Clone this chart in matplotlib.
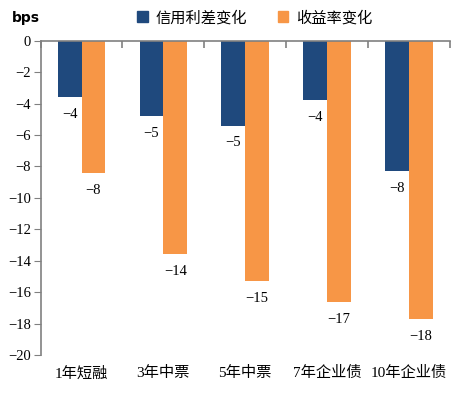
import numpy as np
import matplotlib.pyplot as plt
from matplotlib.patches import Patch

categories = ["1年短融", "3年中票", "5年中票", "7年企业债", "10年企业债"]
spread_chg = [-3.6, -4.8, -5.4, -3.8, -8.3]
yield_chg = [-8.4, -13.6, -15.3, -16.6, -17.7]
series_names = ["信用利差变化", "收益率变化"]
yticks = list(range(-20, 1, 2))

blue = "#1F497D"
orange = "#F79646"
gray = "#808080"
cjk = ["Liberation Serif", "Noto Sans CJK SC"]

fig = plt.figure(figsize=(4.72, 3.95), dpi=100)
ax = fig.add_axes([0.086, 0.101, 0.867, 0.796])

x = np.arange(len(categories))
w = 0.29
b1 = ax.bar(x - w / 2, spread_chg, width=w, color=blue)
b2 = ax.bar(x + w / 2, yield_chg, width=w, color=orange)

# data labels under the bars
for bars, vals in [(b1, spread_chg), (b2, yield_chg)]:
    for bar, v in zip(bars, vals):
        lab = ("%d" % round(v)).replace("-", "\u2212")
        ax.annotate(lab, (bar.get_x() + bar.get_width() / 2, v),
                    xytext=(0, -12.5), textcoords="offset points",
                    ha="center", va="center", fontsize=10.5,
                    family="Liberation Serif")

ax.set_xlim(-0.5, len(categories) - 0.5)
ax.set_ylim(-20, 0)
ax.set_yticks(yticks)
ax.set_yticklabels([str(t).replace("-", "\u2212") for t in yticks],
                   family="Liberation Serif", fontsize=10.5)

ax.set_xticks(x)
ax.set_xticklabels(categories, family=cjk, fontsize=11)
ax.tick_params(axis="x", length=0, pad=8)
ax.tick_params(axis="y", direction="out", length=5, color=gray, pad=2)

for s in ["right", "bottom"]:
    ax.spines[s].set_visible(False)
for s in ["left", "top"]:
    ax.spines[s].set_color(gray)
    ax.spines[s].set_linewidth(1.2)

# category boundary ticks on the zero line
top = ax.secondary_xaxis("top")
top.set_xticks(np.arange(len(categories) + 1) - 0.5)
top.set_xticklabels([])
top.tick_params(direction="in", length=5, color=gray, width=1.2)
top.spines["top"].set_visible(False)

fig.text(0.025, 0.955, "bps", fontsize=10, fontweight="bold",
         family="DejaVu Sans", va="center")

handles = [Patch(color=blue), Patch(color=orange)]
fig.legend(handles, series_names, loc="center", bbox_to_anchor=(0.54, 0.955),
           ncol=2, frameon=False, prop={"family": cjk, "size": 11},
           handlelength=0.7, handleheight=0.7, handletextpad=0.5,
           columnspacing=2.0)

fig.savefig("out.png", dpi=100)
